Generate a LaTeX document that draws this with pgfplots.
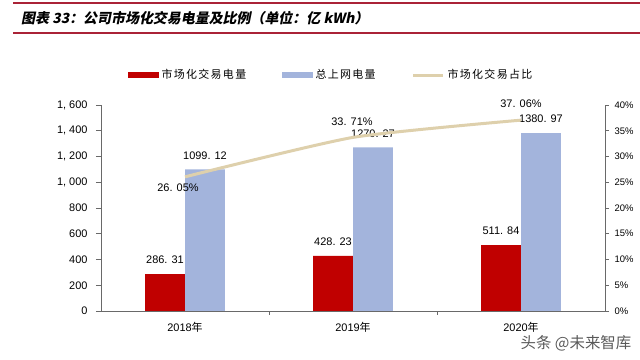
\documentclass[border=0pt]{standalone}
\usepackage{pgfplots}
\pgfplotsset{compat=1.18}
\usepackage{fontspec}
\setmainfont{Liberation Sans}
\newfontfamily\cjk{Noto Sans CJK SC}
\newfontfamily\cjkl[LetterSpace=12]{Noto Sans CJK SC}
\newfontfamily\cjkt[FakeSlant=0.2]{Noto Sans CJK SC}
\definecolor{barred}{RGB}{192,0,0}
\definecolor{barblue}{RGB}{163,180,220}
\definecolor{linebeige}{RGB}{222,208,172}
\definecolor{titlered}{RGB}{170,35,55}
\definecolor{axgray}{RGB}{105,105,105}
\begin{document}
\begin{tikzpicture}
\useasboundingbox (0,0) rectangle (640bp,360bp);
% title and rules
\draw[titlered, line width=1.2bp] (13bp,357bp) -- (640bp,357bp);
\draw[titlered, line width=1.2bp] (13bp,327bp) -- (640bp,327bp);
\node[anchor=west, inner sep=0pt] at (21bp,342bp) {\fontsize{14}{16}\selectfont\cjkt\bfseries 图表 33：公司市场化交易电量及比例（单位：亿 kWh）};
% watermark
\node[anchor=center, inner sep=0pt, text=black!65] at (576bp,17bp) {\fontsize{15.5}{17}\selectfont\cjk 头条 @未来智库};
\begin{axis}[
  at={(101bp,49bp)}, anchor=south west, scale only axis,
  width=504bp, height=206bp,
  xmin=-0.5, xmax=2.5, ymin=0, ymax=1600,
  ybar=0pt, bar width=0.238,
  axis y line*=left, axis x line*=bottom,
  axis line style={axgray, line width=0.8bp},
  xtick={0,1,2},
  xticklabels={{2018{\cjk 年}},{2019{\cjk 年}},{2020{\cjk 年}}},
  minor xtick={0.5,1.5},
  x tick style={draw=none},
  minor x tick style={draw=axgray, line width=0.8bp},
  minor tick length=4bp,
  x tick label style={font=\fontsize{11}{13}\selectfont, yshift=-3bp},
  ytick={0,200,...,1600},
  yticklabels={0,200,400,600,800,{1, 000},{1, 200},{1, 400},{1, 600}},
  y tick label style={font=\fontsize{11}{13}\selectfont, xshift=-5bp},
  y tick style={axgray, line width=0.8bp},
  tick align=outside, major tick length=5bp,
  /pgf/number format/assume math mode=true,
  clip=false,
  nodes near coords,
  point meta=explicit symbolic,
  every node near coord/.append style={font=\fontsize{11}{13}\selectfont, inner sep=0pt, anchor=south, yshift=10bp},
]
\addplot[fill=barred, draw=none] coordinates {(0,286.31) [286. 31] (1,428.23) [428. 23] (2,511.84) [511. 84]};
\addplot[fill=barblue, draw=none] coordinates {(0,1099.12) [1099. 12] (1,1270.27) [1270. 27] (2,1380.97) [1380. 97]};
\end{axis}
\begin{axis}[
  at={(101bp,49bp)}, anchor=south west, scale only axis,
  width=504bp, height=206bp,
  xmin=-0.5, xmax=2.5, ymin=0, ymax=40,
  axis y line*=right, axis x line=none,
  axis line style={axgray, line width=0.8bp},
  ytick={0,5,...,40},
  yticklabel={\pgfmathprintnumber{\tick}\%},
  /pgf/number format/assume math mode=true,
  y tick label style={font=\fontsize{9.5}{11}\selectfont, xshift=2bp},
  y tick style={axgray, line width=0.8bp},
  tick align=outside, major tick length=4bp,
  clip=false,
  legend columns=3,
  legend style={at={(0.0536,1.1456)}, anchor=west, draw=none, fill=none, inner sep=0pt,
    font=\cjkl\fontsize{11}{13}\selectfont,
    nodes={inner sep=0pt},
    /tikz/every odd column/.append style={column sep=3bp},
    /tikz/every even column/.append style={column sep=36bp}},
]
\addlegendimage{legend image code/.code={\fill[barred] (0bp,-2.5bp) rectangle (30bp,2.5bp);}}
\addlegendentry{市场化交易电量}
\addlegendimage{legend image code/.code={\fill[barblue] (0bp,-2.5bp) rectangle (30bp,2.5bp);}}
\addlegendentry{总上网电量}
\addplot[linebeige, line width=3bp, smooth, tension=0.35, mark=none,
  legend image code/.code={\draw[linebeige, line width=3bp] (0bp,0bp) -- (30bp,0bp);}]
  coordinates {(0,26.05) (1,33.71) (2,37.06)};
\addlegendentry{市场化交易占比}
\addplot[draw=none, mark=none, nodes near coords={26. 05\%},
  every node near coord/.append style={font=\fontsize{11}{13}\selectfont, inner sep=0pt, anchor=north, xshift=-7bp, yshift=-7bp}]
  coordinates {(0,26.05)};
\addplot[draw=none, mark=none, nodes near coords={33. 71\%},
  every node near coord/.append style={font=\fontsize{11}{13}\selectfont, inner sep=0pt, anchor=south, xshift=-1bp, yshift=12bp}]
  coordinates {(1,33.71)};
\addplot[draw=none, mark=none, nodes near coords={37. 06\%},
  every node near coord/.append style={font=\fontsize{11}{13}\selectfont, inner sep=0pt, anchor=south, yshift=12bp}]
  coordinates {(2,37.06)};
\end{axis}
\end{tikzpicture}
\end{document}
